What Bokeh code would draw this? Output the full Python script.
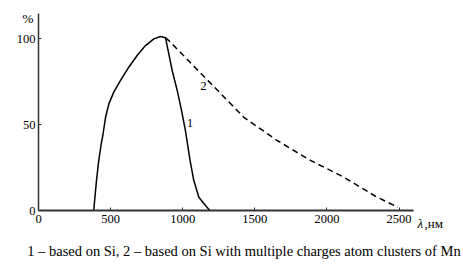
from bokeh.plotting import figure
from bokeh.models import Label, FixedTicker, Range1d
from bokeh.embed import file_html
from bokeh.resources import INLINE

# Curve 1: based on Si
c1_x = [383, 402, 418, 435, 446, 465, 488, 522, 569, 626, 684, 742, 800, 846, 881,
        899, 927, 962, 992, 1019, 1051, 1077, 1112, 1158, 1188]
c1_y = [0, 17.4, 29.1, 38.8, 43.6, 54.2, 62.0, 68.8, 75.6, 83.3, 90.1, 95.9, 99.8, 101.2, 100.4,
        93.0, 81.4, 69.8, 58.1, 46.5, 29.1, 17.4, 7.7, 2.9, 0]

# Curve 2: based on Si with multiple charges atom clusters of Mn (dashed part)
c2_x = [881, 904, 1089, 1170, 1424, 1655, 1886, 2117, 2349, 2492]
c2_y = [100.4, 98.8, 82.9, 76.0, 54.2, 40.7, 29.1, 19.4, 7.7, 1.9]

x_ticks = [0, 500, 1000, 1500, 2000, 2500]
y_ticks = [0, 50, 100]

FONT = "Liberation Serif"
W, H = 463, 267
KX, KY = 0.1442, 1.72          # px per nm, px per %
X0PX, Y0PX = 38, 210           # page position of the data origin
xs = -X0PX / KX
ys = -(H - Y0PX) / KY

p = figure(width=W, height=H, min_border=0, min_border_left=0, min_border_right=0,
           min_border_top=0, min_border_bottom=0,
           x_range=Range1d(xs, xs + W / KX), y_range=Range1d(ys, ys + H / KY),
           output_backend="svg", toolbar_location=None)
p.outline_line_color = None
p.grid.visible = False
p.background_fill_color = "white"
p.border_fill_color = "white"

for ax in (p.xaxis[0], p.yaxis[0]):
    ax.fixed_location = 0
    ax.major_tick_in = 3
    ax.major_tick_out = 0
    ax.minor_tick_line_color = None
    ax.axis_line_color = "#333333"
    ax.major_tick_line_color = "#333333"
    ax.major_label_text_font = FONT
    ax.major_label_text_font_size = "12.5px"
    ax.major_label_text_color = "black"
p.xaxis[0].axis_line_width = 2
p.yaxis[0].axis_line_width = 1.5
p.xaxis[0].bounds = (0, 2600)
p.yaxis[0].bounds = (0, 114.5)
p.xaxis[0].ticker = FixedTicker(ticks=x_ticks)
p.yaxis[0].ticker = FixedTicker(ticks=y_ticks)
p.xaxis[0].major_label_standoff = 4
p.yaxis[0].major_label_standoff = 3

p.line(c1_x, c1_y, line_color="black", line_width=1.5)
p.line(c2_x, c2_y, line_color="black", line_width=1.5, line_dash="6 4")

def lab(x, y, t, align="center", style="normal", size="13px", baseline="middle"):
    p.add_layout(Label(x=x, y=y, text=t, text_font=FONT, text_font_size=size,
                       text_align=align, text_baseline=baseline, text_font_style=style,
                       text_color="black"))

lab(1051, 50.6, "1", size="13px")
lab(1144, 72.2, "2", size="13px")
lab(-74, 111.5, "%", size="13.5px")
lab(2628, -7.6, "λ", align="left", style="italic", size="13px")
lab(2677, -7.6, ",нм", align="left", size="13px")
lab(1425, -23.3, "1 – based on Si, 2 – based on Si with multiple charges atom clusters of Mn",
    size="14.5px")

open("out.html", "w").write(file_html(p, INLINE))
